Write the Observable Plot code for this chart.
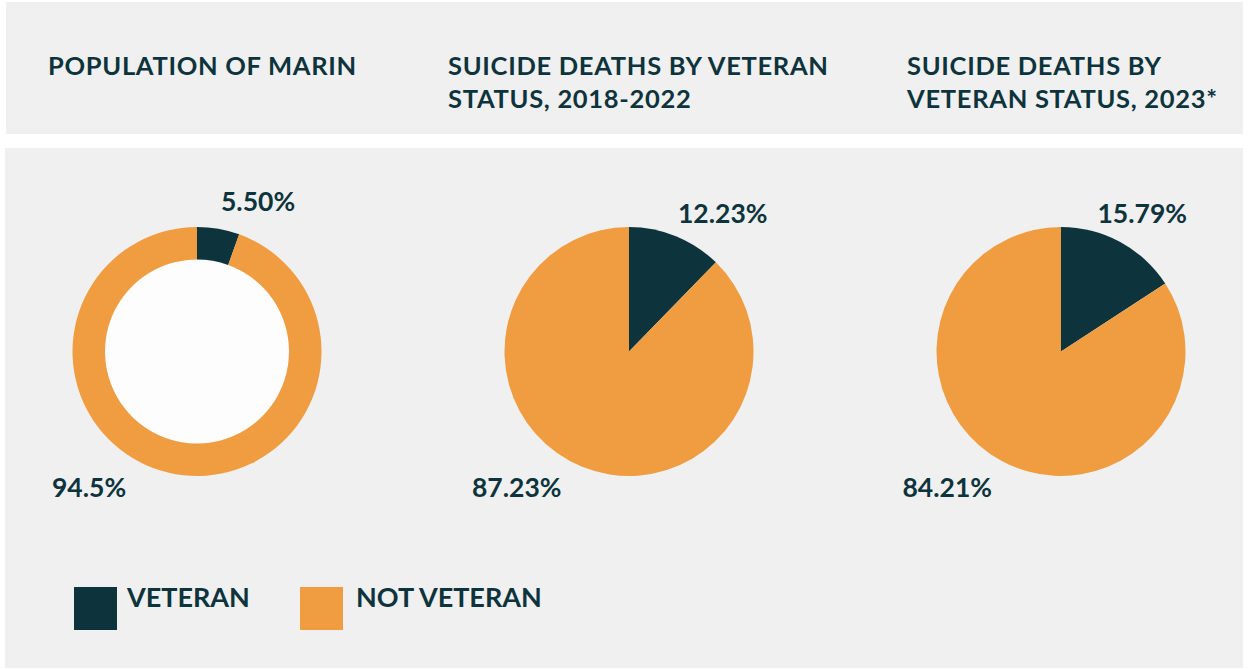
<!DOCTYPE html>
<html>
<head>
<meta charset="utf-8">
<script src="https://cdn.jsdelivr.net/npm/d3@7"></script>
<script src="https://cdn.jsdelivr.net/npm/@observablehq/plot@0.6"></script>
<style>
  html, body { margin: 0; padding: 0; background: #ffffff; }
  body { width: 1249px; height: 669px; position: relative; overflow: hidden; font-family: Lato, "Noto Sans", sans-serif; color: #0d343c; }
  .panel { position: absolute; background: #f0f0f0; }
  .t { position: absolute; white-space: nowrap; font-weight: 700; line-height: 1.2; }
  .sw { position: absolute; width: 43px; height: 43px; }
  #chart { position: absolute; left: 0; top: 151px; }
</style>
</head>
<body>
<div class="panel" style="left:6px;top:2px;width:1237px;height:132px"></div>
<div class="panel" style="left:5px;top:148px;width:1238px;height:520px"></div>
<div id="titles"></div>
<div id="chart"></div>
<div id="legend"></div>
<script>
// ---- data ----
const charts = ["Population of Marin", "Suicide deaths 2018-2022", "Suicide deaths 2023*"];
const statuses = ["Veteran", "Not veteran"];
const veteranPct = [5.50, 12.23, 15.79];
const notVeteranPct = [94.5, 87.23, 84.21];
const veteranLabels = ["5.50%", "12.23%", "15.79%"];
const notVeteranLabels = ["94.5%", "87.23%", "84.21%"];
const titleLines = [
  ["POPULATION OF MARIN"],
  ["SUICIDE DEATHS BY VETERAN", "STATUS, 2018-2022"],
  ["SUICIDE DEATHS BY", "VETERAN STATUS, 2023*"]
];
const legendLabels = ["VETERAN", "NOT VETERAN"];

// ---- style / layout ----
const colors = ["#0d343c", "#f09c41"];
const textColor = "#0d343c";
const chartKind = ["donut", "pie", "pie"];
const outerR = 124.5, innerR = 92;
const vetLabelDx = [23.5, 48.5, 36], vetLabelDy = [-149.5, -137, -137];
const notLabelDx = [-145.5, -157.5, -159], notLabelDy = [137, 137, 137];
const titleX = [48, 448, 907], titleBase = [75.5, 108.5], titleSize = 25.5, titleLS = 0.7;
const labelSize = 26.5;

const rows = [];
charts.forEach((c, i) => {
  rows.push({chart: c, status: statuses[0], value: veteranPct[i], label: veteranLabels[i]});
  rows.push({chart: c, status: statuses[1], value: notVeteranPct[i], label: notVeteranLabels[i]});
});

// titles (HTML)
const tdiv = document.getElementById("titles");
titleLines.forEach((lines, i) => {
  lines.forEach((line, j) => {
    const d = document.createElement("div");
    d.className = "t";
    d.textContent = line;
    d.style.fontSize = titleSize + "px";
    d.style.letterSpacing = titleLS + "px";
    d.style.left = titleX[i] + "px";
    d.style.top = (titleBase[j] - 0.987 * titleSize) + "px";
    tdiv.appendChild(d);
  });
});

// pie render mark
const pieMark = (index, scales, values, dimensions) => {
  const {height, marginTop, marginBottom} = dimensions;
  const cy = marginTop + (height - marginTop - marginBottom) / 2;
  const g = d3.create("svg:g");
  charts.forEach((c, i) => {
    const cx = scales.x(c);
    const inner = chartKind[i] === "donut" ? innerR : 0;
    const slices = d3.pie().sort(null).value(d => d.value)(rows.filter(r => r.chart === c));
    const arc = d3.arc().innerRadius(inner).outerRadius(outerR);
    const gg = g.append("g").attr("transform", `translate(${cx},${cy})`);
    if (inner) gg.append("circle").attr("r", inner).attr("fill", "#fdfdfd");
    gg.selectAll("path").data(slices).join("path")
      .attr("d", arc)
      .attr("fill", d => scales.color(d.data.status));
  });
  return g.node();
};

const labelMarks = [];
charts.forEach((c, i) => {
  const vr = rows.filter(r => r.chart === c && r.status === statuses[0]);
  const nr = rows.filter(r => r.chart === c && r.status === statuses[1]);
  const common = {x: "chart", text: "label", frameAnchor: "middle", textAnchor: "start",
    fill: textColor, fontSize: labelSize, fontWeight: 700, fontFamily: "Lato", lineAnchor: "middle"};
  labelMarks.push(Plot.text(vr, {...common, dx: vetLabelDx[i], dy: vetLabelDy[i]}));
  labelMarks.push(Plot.text(nr, {...common, dx: notLabelDx[i], dy: notLabelDy[i]}));
});

const plot = Plot.plot({
  width: 1249,
  height: 401,
  marginLeft: 196.5,
  marginRight: 187.3,
  marginTop: 0,
  marginBottom: 0,
  style: {background: "transparent", fontFamily: "Lato"},
  x: {type: "point", domain: charts, padding: 0, axis: null},
  color: {domain: statuses, range: colors},
  marks: [
    Plot.dot(rows, {x: "chart", fill: "status", r: 0}),
    pieMark,
    ...labelMarks
  ]
});
document.getElementById("chart").appendChild(plot);

// legend (HTML)
const ldiv = document.getElementById("legend");
const swX = [74, 300], txtX = [127, 356], legTop = 587, legBase = 607.5, legSize = 27;
legendLabels.forEach((lab, i) => {
  const s = document.createElement("div");
  s.className = "sw";
  s.style.left = swX[i] + "px";
  s.style.top = legTop + "px";
  s.style.background = colors[i];
  ldiv.appendChild(s);
  const t = document.createElement("div");
  t.className = "t";
  t.textContent = lab;
  t.style.fontSize = legSize + "px";
  t.style.left = txtX[i] + "px";
  t.style.top = (legBase - 0.987 * legSize) + "px";
  ldiv.appendChild(t);
});
</script>
</body>
</html>
